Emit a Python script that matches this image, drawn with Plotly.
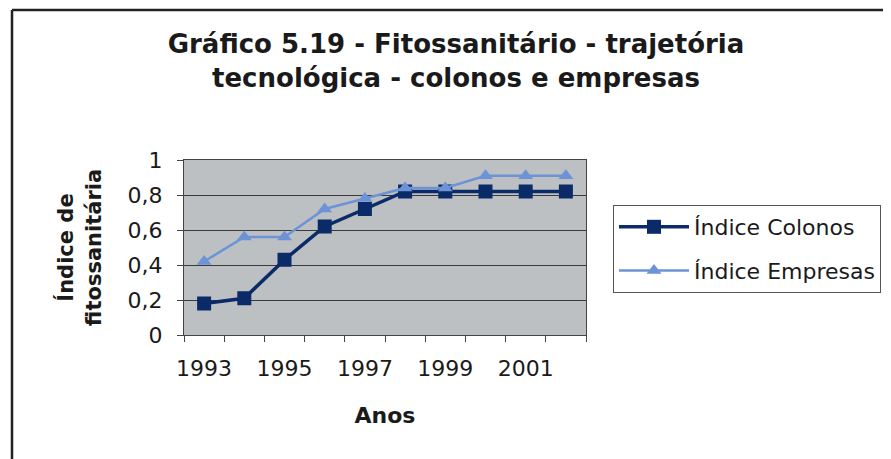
import plotly.graph_objects as go

anos = [1993, 1994, 1995, 1996, 1997, 1998, 1999, 2000, 2001, 2002]
indice_colonos = [0.18, 0.21, 0.43, 0.62, 0.72, 0.82, 0.82, 0.82, 0.82, 0.82]
indice_empresas = [0.42, 0.56, 0.56, 0.72, 0.78, 0.84, 0.84, 0.91, 0.91, 0.91]
x_ticks = [1993, 1995, 1997, 1999, 2001]
y_ticks = [0, 0.2, 0.4, 0.6, 0.8, 1]

fonte = "DejaVu Sans, Verdana, sans-serif"

# page body adds 8px, so everything below is in screen pixels minus OFF
OFF = 8
W, H = 891, 459
L, R, T, B = 184 - OFF, 586 - OFF, 160 - OFF, 335 - OFF


def px_x(p):
    return (p - OFF - L) / (R - L)


def px_y(p):
    return (B - (p - OFF)) / (B - T)


fig = go.Figure()

fig.add_trace(go.Scatter(
    x=anos, y=indice_colonos, name="Índice Colonos",
    mode="lines+markers", legendgroup="a",
    line=dict(color="#0b2a68", width=3.5),
    marker=dict(symbol="square", size=14, color="#0b2a68"),
))

fig.add_trace(go.Scatter(
    x=anos, y=indice_empresas, name="Índice Empresas",
    mode="lines+markers", legendgroup="b",
    line=dict(color="#6d93d6", width=2.5),
    marker=dict(symbol="triangle-up", size=13, color="#6d93d6"),
))

fig.update_layout(
    width=W, height=H,
    margin=dict(l=L, r=W - R, t=T, b=H - B),
    paper_bgcolor="white",
    plot_bgcolor="#bcc0c3",
    separators=",.",
    font=dict(family=fonte, color="#1a1a1a"),
    title=dict(
        text="<b>Gráfico 5.19 - Fitossanitário - trajetória<br>"
             "tecnológica - colonos e empresas</b>",
        x=px_x(456), xref="paper", xanchor="center",
        y=1 - 45 / H, yanchor="top",
        font=dict(size=26, family=fonte, color="#1a1a1a"),
    ),
    legend=dict(
        x=px_x(613), y=px_y(205), xref="paper", yref="paper",
        xanchor="left", yanchor="top",
        bgcolor="white", bordercolor="#555", borderwidth=1,
        font=dict(size=22, family=fonte),
        traceorder="grouped", tracegroupgap=12,
        itemwidth=70,
    ),
    xaxis=dict(
        range=[1992.5, 2002.5],
        tickvals=x_ticks,
        ticks="",
        ticklabelstandoff=14,
        tickfont=dict(size=22),
        showgrid=False, zeroline=False,
        showline=True, linecolor="#444", linewidth=1, mirror=True,
        minor=dict(ticks="outside", tick0=1992.5, dtick=1,
                   ticklen=6, tickcolor="#444", showgrid=False),
        title=dict(text="<b>Anos</b>", font=dict(size=22), standoff=27),
    ),
    yaxis=dict(
        range=[0, 1],
        tickvals=y_ticks,
        ticks="outside", ticklen=6, tickcolor="#444",
        ticklabelstandoff=10,
        tickfont=dict(size=22),
        showgrid=True, gridcolor="#3a3a3a", gridwidth=1,
        zeroline=False,
        showline=True, linecolor="#444", linewidth=1, mirror=True,
        title=dict(text="<b>Índice de<br>fitossanitária</b>",
                   font=dict(size=21), standoff=20),
    ),
)

# outer frame (left and top edges visible in the scan)
fig.add_shape(type="line", xref="paper", yref="paper",
              x0=px_x(12), x1=px_x(12), y0=px_y(10), y1=px_y(H + 10),
              line=dict(color="#222", width=2.5))
fig.add_shape(type="line", xref="paper", yref="paper",
              x0=px_x(12), x1=px_x(W + 10), y0=px_y(10), y1=px_y(10),
              line=dict(color="#222", width=2.5))

fig.write_html("out.html")
